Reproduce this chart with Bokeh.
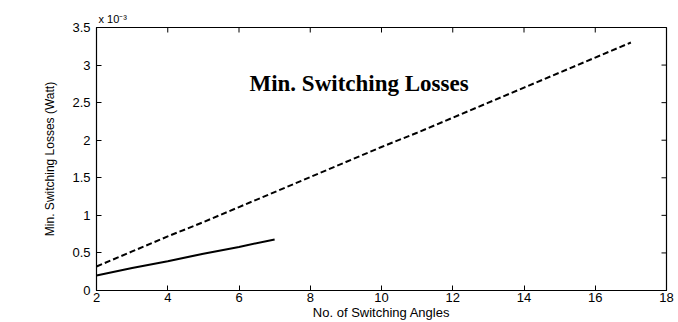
from bokeh.plotting import figure
from bokeh.models import FixedTicker, Range1d, Label
from bokeh.embed import file_html
from bokeh.resources import INLINE

# values in units of 1e-3 W
angles_a = [2, 3, 4, 5, 6, 7, 8, 9, 10, 11, 12, 13, 14, 15, 16, 17]
losses_a = [0.32, 0.52, 0.72, 0.91, 1.11, 1.31, 1.51, 1.71, 1.91, 2.10, 2.30, 2.50, 2.70, 2.90, 3.10, 3.30]
angles_b = [2, 3, 4, 5, 6, 7]
losses_b = [0.20, 0.30, 0.39, 0.49, 0.58, 0.68]
x_ticks = [2, 4, 6, 8, 10, 12, 14, 16, 18]
y_ticks = [0, 0.5, 1, 1.5, 2, 2.5, 3, 3.5]

p = figure(width=678, height=322, output_backend="svg", toolbar_location=None,
           x_range=Range1d(2, 18), y_range=Range1d(0, 3.5),
           min_border_left=96, min_border_right=12, min_border_top=27, min_border_bottom=20,
           title="x 10\u207b\u00b3")
p.title.text_font = "Arial"
p.title.text_font_size = "11px"
p.title.text_font_style = "normal"
p.title.text_color = "black"
p.title.align = "left"
p.title.offset = 2
p.title.standoff = 5
p.grid.visible = False
p.outline_line_color = "black"
p.outline_line_width = 1.2

p.line(angles_a, losses_a, line_color="black", line_width=2, line_dash="6 3")
p.line(angles_b, losses_b, line_color="black", line_width=2)

# inward ticks on the top and right edges (clipped to the frame)
p.scatter(x_ticks, [3.5] * len(x_ticks), marker="dash", angle=1.5708, size=10,
          line_color="black", line_width=1)
p.scatter([18] * len(y_ticks), y_ticks, marker="dash", size=10,
          line_color="black", line_width=1)

lab_font = "Arial"
p.xaxis.ticker = FixedTicker(ticks=x_ticks)
p.yaxis.ticker = FixedTicker(ticks=y_ticks)
for ax in list(p.xaxis) + list(p.yaxis):
    ax.major_tick_in = 5
    ax.major_tick_out = 0
    ax.minor_tick_in = 0
    ax.minor_tick_out = 0
    ax.axis_line_color = "black"
    ax.major_label_text_font = lab_font
    ax.major_label_text_font_size = "13px"
    ax.major_label_text_color = "black"
    ax.axis_label_text_font = lab_font
    ax.axis_label_text_font_style = "normal"
    ax.axis_label_text_color = "black"
p.xaxis.axis_label = "No. of Switching Angles"
p.xaxis.axis_label_text_font_size = "13px"
p.xaxis.axis_label_standoff = 0
p.xaxis.major_label_standoff = 2
p.yaxis.axis_label = "Min. Switching Losses (Watt)"
p.yaxis.axis_label_text_font = "Liberation Sans"
p.yaxis.axis_label_text_font_size = "12px"
p.yaxis.axis_label_standoff = 12
p.yaxis.major_label_standoff = 6

p.add_layout(Label(x=9.37, y=2.75, text="Min. Switching Losses", text_align="center",
                   text_baseline="alphabetic", text_font="Liberation Serif",
                   text_font_style="bold", text_font_size="23px", text_color="black"))

open("out.html", "w").write(file_html(p, INLINE))
